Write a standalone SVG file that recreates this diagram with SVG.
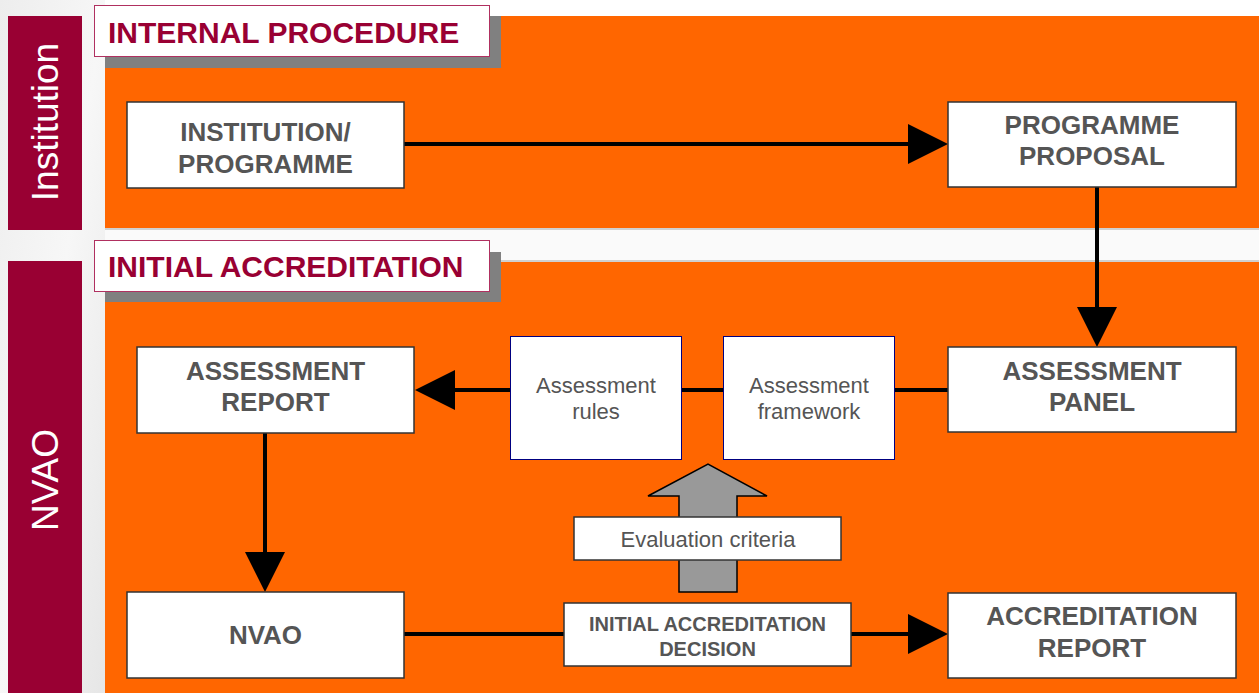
<svg xmlns="http://www.w3.org/2000/svg" width="1259" height="693" viewBox="0 0 1259 693">
<defs>
<linearGradient id="bg" x1="0" y1="0" x2="1" y2="1">
<stop offset="0" stop-color="#ededed"/>
<stop offset="0.5" stop-color="#f7f7f7"/>
<stop offset="1" stop-color="#e6e6e6"/>
</linearGradient>
<marker id="ah" markerWidth="10" markerHeight="10" refX="10" refY="5" orient="auto" markerUnits="strokeWidth">
<path d="M0,0 L10,5 L0,10 Z" fill="#000"/>
</marker>
</defs>
<style>
.panel{fill:#ff6600}
.side{fill:#990033}
.sidetxt{font-family:"Liberation Sans",Arial,sans-serif;font-size:37px;fill:#fff;text-anchor:middle}
.ttlbox{fill:#fff;stroke:#b03060;stroke-width:1}
.shadow{fill:#808080}
.ttl{font-family:"Liberation Sans",Arial,sans-serif;font-size:30px;font-weight:bold;fill:#990033}
.node{fill:#fff;stroke:#333;stroke-width:1.5}
.node2{fill:#fff;stroke:#000080;stroke-width:1}
.nt{font-family:"Liberation Sans",Arial,sans-serif;font-size:26px;font-weight:bold;fill:#555;text-anchor:middle}
.st{font-family:"Liberation Sans",Arial,sans-serif;font-size:22px;fill:#555;text-anchor:middle}
.dt{font-family:"Liberation Sans",Arial,sans-serif;font-size:20px;font-weight:bold;fill:#555;text-anchor:middle}
.ln{stroke:#000;stroke-width:4;fill:none}
.hd{fill:#000}
</style>
<rect x="0" y="0" width="1259" height="693" fill="#fff"/>
<rect x="0" y="0" width="105" height="693" fill="url(#bg)"/>
<rect x="105" y="228" width="1154" height="34" fill="#fafafa"/>
<line x1="105" y1="229" x2="1259" y2="229" stroke="#d0d0d0" stroke-width="2"/>
<line x1="105" y1="261" x2="1259" y2="261" stroke="#d0d0d0" stroke-width="2"/>

<g id="lane-institution">
<rect class="side" x="8" y="16" width="74" height="214"/>
<text class="sidetxt" transform="translate(58,122) rotate(-90)">Institution</text>
</g>
<g id="lane-nvao">
<rect class="side" x="8" y="261" width="74" height="432"/>
<text class="sidetxt" transform="translate(58,480) rotate(-90)">NVAO</text>
</g>

<g id="panel-internal">
<rect class="panel" x="105" y="16" width="1154" height="212"/>
<rect class="shadow" x="105" y="16" width="396" height="52"/>
<rect class="ttlbox" x="94.5" y="5.5" width="395" height="51"/>
<text class="ttl" x="108" y="43">INTERNAL PROCEDURE</text>
</g>
<g id="panel-initial">
<rect class="panel" x="105" y="262" width="1154" height="431"/>
<rect class="shadow" x="105" y="252" width="396" height="50"/>
<rect class="ttlbox" x="94.5" y="240.5" width="395" height="51"/>
<text class="ttl" x="108" y="277">INITIAL ACCREDITATION</text>
</g>

<g id="connectors">
<line class="ln" x1="404" y1="144" x2="910" y2="144"/>
<polygon class="hd" points="908,124 948,144 908,164"/>
<line class="ln" x1="1097" y1="187" x2="1097" y2="309"/>
<polygon class="hd" points="1077,307 1117,307 1097,347"/>
<line class="ln" x1="948" y1="390" x2="453" y2="390"/>
<polygon class="hd" points="455,370 455,410 415,390"/>
<line class="ln" x1="265" y1="432" x2="265" y2="554"/>
<polygon class="hd" points="245,552 285,552 265,592"/>
<line class="ln" x1="404" y1="634" x2="910" y2="634"/>
<polygon class="hd" points="908,614 948,634 908,654"/>
<polygon points="679,592 737,592 737,496 767,496 708,464 648,496 679,496" fill="#999" stroke="#000" stroke-width="1.5"/>
</g>

<g id="n-institution">
<rect class="node" x="127" y="102" width="277" height="86"/>
<text class="nt" x="265.5" y="141">INSTITUTION/</text>
<text class="nt" x="265.5" y="173">PROGRAMME</text>
</g>
<g id="n-proposal">
<rect class="node" x="948" y="102" width="288" height="85"/>
<text class="nt" x="1092" y="134">PROGRAMME</text>
<text class="nt" x="1092" y="165">PROPOSAL</text>
</g>
<g id="n-panel">
<rect class="node" x="948" y="347" width="288" height="85"/>
<text class="nt" x="1092" y="380">ASSESSMENT</text>
<text class="nt" x="1092" y="411">PANEL</text>
</g>
<g id="n-framework">
<rect class="node2" x="723.5" y="336.5" width="171" height="123"/>
<text class="st" x="809" y="393">Assessment</text>
<text class="st" x="809" y="419">framework</text>
</g>
<g id="n-rules">
<rect class="node2" x="510.5" y="336.5" width="171" height="123"/>
<text class="st" x="596" y="393">Assessment</text>
<text class="st" x="596" y="419">rules</text>
</g>
<g id="n-report">
<rect class="node" x="137" y="347" width="277" height="86"/>
<text class="nt" x="275.5" y="380">ASSESSMENT</text>
<text class="nt" x="275.5" y="411">REPORT</text>
</g>
<g id="n-criteria">
<rect class="node" x="574" y="517" width="267" height="43"/>
<text class="st" x="708" y="547">Evaluation criteria</text>
</g>
<g id="n-nvao">
<rect class="node" x="127" y="592" width="277" height="86"/>
<text class="nt" x="265.5" y="644">NVAO</text>
</g>
<g id="n-decision">
<rect class="node" x="564" y="603" width="287" height="63"/>
<text class="dt" x="707.5" y="631">INITIAL ACCREDITATION</text>
<text class="dt" x="707.5" y="656">DECISION</text>
</g>
<g id="n-accreport">
<rect class="node" x="948" y="593" width="288" height="85"/>
<text class="nt" x="1092" y="625">ACCREDITATION</text>
<text class="nt" x="1092" y="657">REPORT</text>
</g>
</svg>
